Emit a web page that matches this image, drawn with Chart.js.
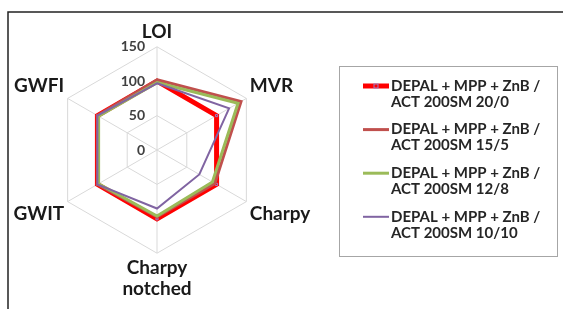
<!DOCTYPE html>
<html>
<head>
<meta charset="utf-8">
<script src="https://cdn.jsdelivr.net/npm/chart.js@4/dist/chart.umd.min.js"></script>
<style>
  html, body { margin: 0; padding: 0; background: #fff; }
  #wrap { position: relative; width: 563px; height: 309px; }
</style>
</head>
<body>
<div id="wrap"><canvas id="grafico" width="563" height="309"></canvas></div>
<script>
// categorias del radar
var categorias = ['LOI', 'MVR', 'Charpy', ['Charpy', 'notched'], 'GWIT', 'GWFI'];

// valores
var serie20_0  = [100, 100, 100, 100, 100, 100];
var serie15_5  = [102, 141,  97,  97, 100, 100];
var serie12_8  = [ 98, 136,  93,  96,  98,  98];
var serie10_10 = [ 97, 121,  71,  85, 100, 100];

var ticksEje = [0, 50, 100, 150];

var nombres = [
    ['DEPAL + MPP + ZnB /', 'ACT 200SM 20/0'],
    ['DEPAL + MPP + ZnB /', 'ACT 200SM 15/5'],
    ['DEPAL + MPP + ZnB /', 'ACT 200SM 12/8'],
    ['DEPAL + MPP + ZnB /', 'ACT 200SM 10/10']
];

var fuente = "Lato, 'Open Sans', sans-serif";

// marco, etiquetas del eje y leyenda a mano
var extras = {
    id: 'extras',
    beforeDraw: function (chart) {
        var c = chart.ctx;
        c.save();
        c.strokeStyle = '#222';
        c.lineWidth = 1.5;
        c.beginPath();
        c.moveTo(8, 309);
        c.lineTo(8, 12);
        c.lineTo(563, 12);
        c.stroke();
        c.restore();
    },
    afterDatasetsDraw: function (chart) {
        var c = chart.ctx;
        var r = chart.scales.r;
        c.save();
        c.font = 'bold 14px ' + fuente;
        c.fillStyle = '#404040';
        c.textAlign = 'right';
        c.textBaseline = 'middle';
        ticksEje.forEach(function (v) {
            var d = r.getDistanceFromCenterForValue(v);
            c.fillText(String(v), r.xCenter - 12, r.yCenter - d);
        });

        // leyenda
        c.strokeStyle = '#a6a6a6';
        c.lineWidth = 1;
        c.strokeRect(339.5, 66.5, 218, 190);
        c.textAlign = 'left';
        c.font = 'bold 15px ' + fuente;
        chart.data.datasets.forEach(function (ds, i) {
            var y = 86 + i * 43.6;
            c.strokeStyle = ds.borderColor;
            c.lineWidth = ds.borderWidth;
            c.beginPath();
            c.moveTo(363, y);
            c.lineTo(389, y);
            c.stroke();
            if (ds.pointRadius > 0) {
                c.fillStyle = ds.pointBackgroundColor;
                c.strokeStyle = ds.pointBorderColor;
                c.lineWidth = 1;
                c.fillRect(374, y - 2, 4, 4);
                c.strokeRect(374, y - 2, 4, 4);
            }
            c.fillStyle = '#262626';
            nombres[i].forEach(function (t, k) {
                c.fillText(t, 391, y + k * 16);
            });
        });
        c.restore();
    }
};

var chart = new Chart(document.getElementById('grafico').getContext('2d'), {
    type: 'radar',
    data: {
        labels: categorias,
        datasets: [
            { label: nombres[0].join(' '), data: serie20_0, borderColor: '#ff0000', borderWidth: 5,
              pointStyle: 'rect', pointRadius: 1.5, pointBackgroundColor: '#ff0000', pointBorderColor: '#9a7fc8',
              pointBorderWidth: 1, fill: false, order: 4 },
            { label: nombres[1].join(' '), data: serie15_5, borderColor: '#c0504d', borderWidth: 3,
              pointRadius: 0, fill: false, order: 3 },
            { label: nombres[2].join(' '), data: serie12_8, borderColor: '#9bbb59', borderWidth: 3,
              pointRadius: 0, fill: false, order: 2 },
            { label: nombres[3].join(' '), data: serie10_10, borderColor: '#8064a2', borderWidth: 2,
              pointRadius: 0, fill: false, order: 1 }
        ]
    },
    options: {
        responsive: false,
        animation: false,
        layout: { padding: { left: 10, right: 246, top: 12, bottom: 0 } },
        elements: { line: { tension: 0 } },
        plugins: {
            legend: { display: false },
            tooltip: { enabled: false }
        },
        scales: {
            r: {
                min: 0,
                max: 150,
                ticks: { stepSize: 50, display: false },
                grid: { color: '#d9d9d9', lineWidth: 1 },
                angleLines: { color: '#d9d9d9', lineWidth: 1 },
                pointLabels: {
                    color: '#1a1a1a',
                    padding: 4,
                    font: { family: fuente, size: 19, weight: 'bold', lineHeight: 1.1 }
                }
            }
        }
    },
    plugins: [extras]
});
</script>
</body>
</html>
